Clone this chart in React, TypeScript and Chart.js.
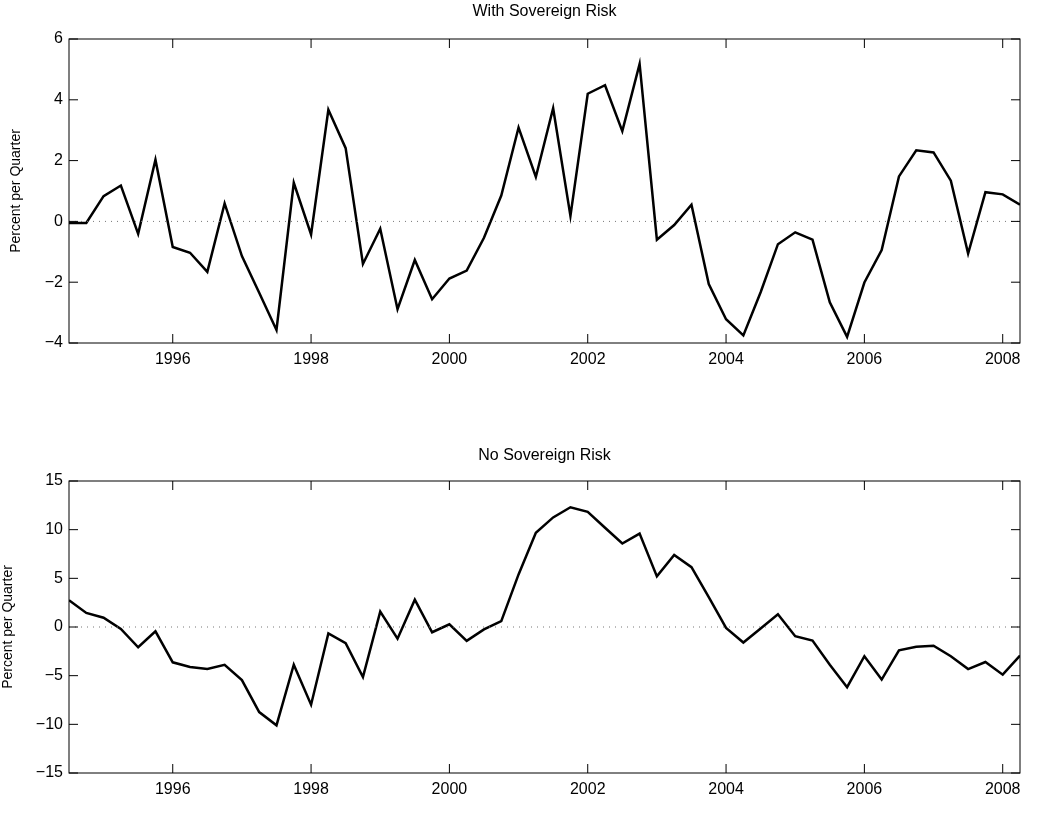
import { useEffect, useRef } from 'react';
import { Chart, registerables } from 'chart.js';

Chart.register(...registerables);

// quarterly dates, 1994.5 .. 2008.25
const startYear = 1994.5;
const withRisk = [
  -0.05, -0.05, 0.83, 1.18, -0.41, 2.03, -0.84, -1.03, -1.66, 0.59,
  -1.14, -2.35, -3.57, 1.27, -0.43, 3.67, 2.41, -1.4, -0.24, -2.89,
  -1.27, -2.56, -1.88, -1.62, -0.54, 0.85, 3.09, 1.46, 3.72, 0.18,
  4.2, 4.48, 2.97, 5.18, -0.6, -0.12, 0.55, -2.06, -3.22, -3.75,
  -2.33, -0.75, -0.36, -0.6, -2.66, -3.8, -2.01, -0.94, 1.48, 2.34,
  2.27, 1.34, -1.06, 0.96, 0.89, 0.55,
];
const noRisk = [
  2.75, 1.45, 0.95, -0.2, -2.08, -0.44, -3.63, -4.1, -4.32, -3.88,
  -5.46, -8.74, -10.1, -3.88, -7.98, -0.66, -1.67, -5.14, 1.58, -1.2,
  2.81, -0.54, 0.28, -1.42, -0.25, 0.6, 5.4, 9.68, 11.26, 12.3,
  11.83, 10.2, 8.58, 9.6, 5.2, 7.41, 6.15, 3.06, -0.1, -1.6,
  -0.15, 1.3, -0.95, -1.39, -3.88, -6.18, -3.0, -5.4, -2.4, -2.02,
  -1.92, -3.0, -4.32, -3.6, -4.9, -2.93,
];
const xTicks = [1996, 1998, 2000, 2002, 2004, 2006, 2008];
const topYTicks = [-4, -2, 0, 2, 4, 6];
const bottomYTicks = [-15, -10, -5, 0, 5, 10, 15];

const FONT = 'Liberation Sans, Arial, sans-serif';

const boxPlugin = {
  id: 'matlabBox',
  afterDatasetsDraw(chart: any, _a: any, opts: any) {
    const { ctx, chartArea: a, scales } = chart;
    ctx.save();
    // dotted zero line
    const y0 = scales.y.getPixelForValue(0);
    ctx.strokeStyle = '#777';
    ctx.lineWidth = 1;
    ctx.setLineDash([1, 5]);
    ctx.beginPath();
    ctx.moveTo(a.left, y0);
    ctx.lineTo(a.right, y0);
    ctx.stroke();
    ctx.setLineDash([]);
    // box + inward ticks
    ctx.strokeStyle = '#000';
    ctx.lineWidth = 1;
    ctx.strokeRect(a.left, a.top, a.right - a.left, a.bottom - a.top);
    const t = 9;
    ctx.beginPath();
    for (const v of xTicks) {
      const x = scales.x.getPixelForValue(v);
      ctx.moveTo(x, a.bottom);
      ctx.lineTo(x, a.bottom - t);
      ctx.moveTo(x, a.top);
      ctx.lineTo(x, a.top + t);
    }
    for (const v of opts.yTicks) {
      const y = scales.y.getPixelForValue(v);
      ctx.moveTo(a.left, y);
      ctx.lineTo(a.left + t, y);
      ctx.moveTo(a.right, y);
      ctx.lineTo(a.right - t, y);
    }
    ctx.stroke();
    // title
    ctx.fillStyle = '#000';
    ctx.font = `16px ${FONT}`;
    ctx.textAlign = 'center';
    ctx.textBaseline = 'bottom';
    ctx.fillText(opts.title, (a.left + a.right) / 2, a.top - opts.titleGap);
    ctx.restore();
  },
};

function Panel({ data, title, titleGap, yMin, yMax, yTicks, padTop, xHeight, yTitlePad }: any) {
  const ref = useRef<HTMLCanvasElement>(null);
  useEffect(() => {
    if (!ref.current) return;
    const points = data.map((v: number, i: number) => ({ x: startYear + i * 0.25, y: v }));
    const chart = new Chart(ref.current, {
      type: 'line',
      data: {
        datasets: [
          { data: points, borderColor: '#000', borderWidth: 2.5, pointRadius: 0, tension: 0 },
        ],
      },
      options: {
        animation: false,
        responsive: false,
        layout: { padding: { top: padTop, right: 23, left: 0, bottom: 0 } },
        plugins: {
          legend: { display: false },
          tooltip: { enabled: false },
          matlabBox: { title, yTicks, titleGap },
        } as any,
        scales: {
          x: {
            type: 'linear',
            min: startYear,
            max: startYear + (data.length - 1) * 0.25,
            grid: { display: false, drawTicks: false },
            border: { display: false },
            afterBuildTicks: (s: any) => { s.ticks = xTicks.map((v) => ({ value: v })); },
            afterFit: (s: any) => { s.height = xHeight; },
            ticks: { color: '#000', font: { family: FONT, size: 16 }, padding: 7, callback: (v: any) => String(v) },
          },
          y: {
            min: yMin,
            max: yMax,
            grid: { display: false, drawTicks: false },
            border: { display: false },
            afterBuildTicks: (s: any) => { s.ticks = yTicks.map((v: number) => ({ value: v })); },
            afterFit: (s: any) => { s.width = 69; },
            ticks: {
              color: '#000', font: { family: FONT, size: 16 }, padding: 6,
              callback: (v: any) => (v < 0 ? '\u2212' + Math.abs(v) : String(v)),
            },
            title: {
              display: true, text: 'Percent per Quarter', color: '#000',
              font: { family: FONT, size: 14 }, padding: { top: yTitlePad, bottom: 0 },
            },
          },
        },
      },
      plugins: [boxPlugin],
    });
    return () => chart.destroy();
  }, []);
  return <canvas ref={ref} width={1043} height={415} style={{ display: 'block' }} />;
}

export default function App() {
  useEffect(() => { document.body.style.margin = '0'; }, []);
  return (
    <div style={{ width: 1043, height: 830, background: '#fff' }}>
      <Panel data={withRisk} title="With Sovereign Risk" titleGap={19} yMin={-4} yMax={6} yTicks={topYTicks} padTop={39} xHeight={72} yTitlePad={8} />
      <Panel data={noRisk} title="No Sovereign Risk" titleGap={17} yMin={-15} yMax={15} yTicks={bottomYTicks} padTop={66} xHeight={57} yTitlePad={0} />
    </div>
  );
}
